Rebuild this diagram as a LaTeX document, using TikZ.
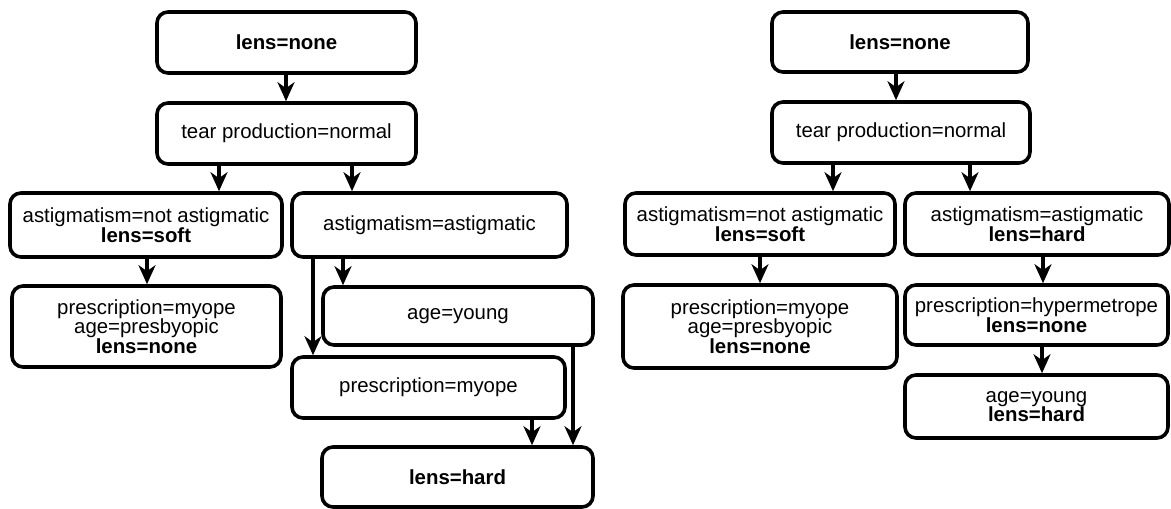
\documentclass[tikz,border=0pt]{standalone}
\usepackage{fontspec}
\setmainfont{Liberation Sans}
\usetikzlibrary{arrows.meta}
\newcommand\boxfont{\fontsize{20.4pt}{19.5pt}\selectfont}
\tikzset{
  box/.style={draw, line width=3.6pt, rounded corners=11pt, inner sep=0pt,
              align=center, font=\boxfont},
  arr/.style={line width=3.2pt, -{Stealth[length=19pt,width=17pt,inset=6pt]}},
}
% \tbox{name}{cx}{cy}{width}{height}{text}
\newcommand\tbox[6]{\node[box, minimum width=#4pt, minimum height=#5pt] (#1) at (#2,#3) {#6};}
\begin{document}
\begin{tikzpicture}[x=1pt, y=-1pt]
\useasboundingbox (0,0) rectangle (1171,509);

% first tree
\tbox{La}{286.5}{42.5}{259}{61}{\textbf{lens=none}}
\tbox{Lb}{286.5}{133.5}{259}{61}{tear production=normal}
\tbox{Lc}{146}{225}{272}{64}{astigmatism=not astigmatic\\\textbf{lens=soft}}
\tbox{Ld}{429.5}{225}{275}{64}{astigmatism=astigmatic}
\tbox{Le}{146.5}{326.5}{269}{81}{prescription=myope\\age=presbyopic\\\textbf{lens=none}}
\tbox{Lf}{458}{316}{270}{58}{age=young}
\tbox{Lg}{428.5}{387.5}{273}{61}{prescription=myope}
\tbox{Lh}{457.5}{477}{271}{60}{\textbf{lens=hard}}

\draw[arr] (La.south -| 286,0) -- (Lb.north -| 286,0);
\draw[arr] (Lb.south -| 219,0) -- (Lc.north -| 219,0);
\draw[arr] (Lb.south -| 352,0) -- (Ld.north -| 352,0);
\draw[arr] (Lc.south -| 147,0) -- (Le.north -| 147,0);
\draw[arr] (Ld.south -| 343,0) -- (Lf.north -| 343,0);
\draw[arr] (Ld.south -| 313,0) -- (Lg.north -| 313,0);
\draw[arr] (Lg.south -| 532,0) -- (Lh.north -| 532,0);
\draw[arr] (Lf.south -| 573,0) -- (Lh.north -| 573,0);

% second tree
\tbox{Ra}{900}{42}{256}{60}{\textbf{lens=none}}
\tbox{Rb}{901}{132.5}{258}{61}{tear production=normal}
\tbox{Rc}{760}{224}{270}{62}{astigmatism=not astigmatic\\\textbf{lens=soft}}
\tbox{Rd}{1037}{224}{264}{62}{astigmatism=astigmatic\\\textbf{lens=hard}}
\tbox{Re}{760}{326.5}{274}{83}{prescription=myope\\age=presbyopic\\\textbf{lens=none}}
\tbox{Rf}{1036.5}{315}{263}{60}{prescription=hypermetrope\\\textbf{lens=none}}
\tbox{Rg}{1036.5}{406.5}{263}{63}{age=young\\\textbf{lens=hard}}

\draw[arr] (Ra.south -| 896,0) -- (Rb.north -| 896,0);
\draw[arr] (Rb.south -| 833,0) -- (Rc.north -| 833,0);
\draw[arr] (Rb.south -| 970,0) -- (Rd.north -| 970,0);
\draw[arr] (Rc.south -| 760,0) -- (Re.north -| 760,0);
\draw[arr] (Rd.south -| 1043,0) -- (Rf.north -| 1043,0);
\draw[arr] (Rf.south -| 1042,0) -- (Rg.north -| 1042,0);
\end{tikzpicture}
\end{document}
